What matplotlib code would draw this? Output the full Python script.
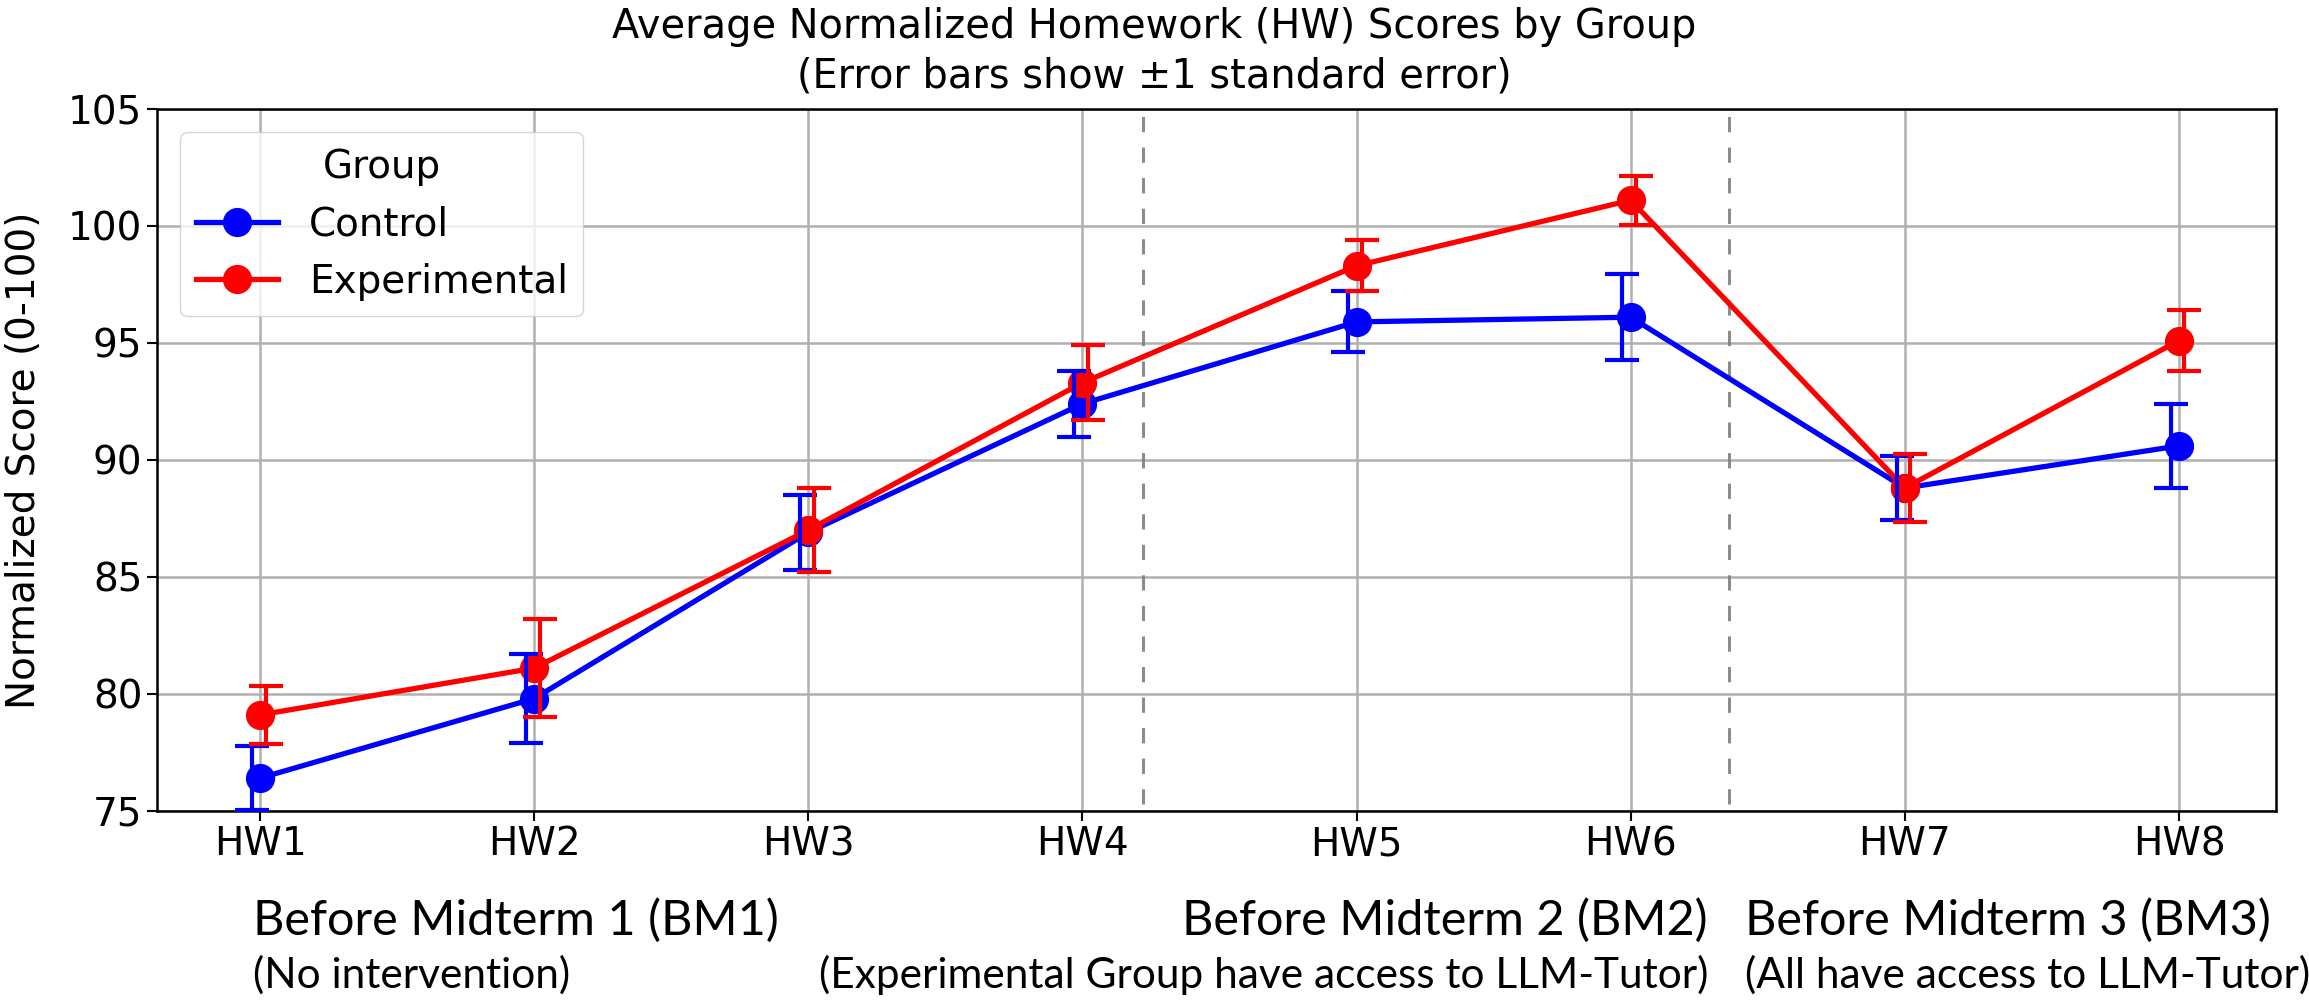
import numpy as np
import matplotlib.pyplot as plt

# Homework labels and group means / standard errors
homeworks = ['HW1', 'HW2', 'HW3', 'HW4', 'HW5', 'HW6', 'HW7', 'HW8']
control_mean = [76.4, 79.8, 86.9, 92.4, 95.9, 96.1, 88.8, 90.6]
control_se = [1.35, 1.9, 1.6, 1.4, 1.3, 1.85, 1.35, 1.8]
exp_mean = [79.1, 81.1, 87.0, 93.3, 98.3, 101.1, 88.8, 95.1]
exp_se = [1.25, 2.1, 1.8, 1.6, 1.1, 1.05, 1.45, 1.3]

# Period boundaries (dashed lines) and period captions
boundaries = [3.22, 5.36]
period_titles = ['Before Midterm 1 (BM1)', 'Before Midterm 2 (BM2)', 'Before Midterm 3 (BM3)']
period_notes = ['(No intervention)', '(Experimental Group have access to LLM-Tutor)',
                '(All have access to LLM-Tutor)']

x = np.arange(len(homeworks))

fig = plt.figure(figsize=(23.09, 10.01), dpi=100)
ax = fig.add_axes([0.068, 0.19, 0.9177, 0.7011])

fs = 28

ax.plot(x, control_mean, color='blue', marker='o', markersize=20, linewidth=3.8,
        label='Control', zorder=3)
ax.plot(x, exp_mean, color='red', marker='o', markersize=20, linewidth=3.8,
        label='Experimental', zorder=3)
ax.errorbar(x - 0.03, control_mean, yerr=control_se, fmt='none', ecolor='blue',
            elinewidth=3, capsize=12, capthick=3, zorder=3)
ax.errorbar(x + 0.02, exp_mean, yerr=exp_se, fmt='none', ecolor='red',
            elinewidth=3, capsize=12, capthick=3, zorder=3)

for b in boundaries:
    ax.axvline(b, ymin=0.01, ymax=0.99, color='gray', linestyle=(0, (5, 5)),
               linewidth=2.2, alpha=0.9, zorder=2)

ax.set_xlim(-0.376, 7.354)
ax.set_ylim(75, 105)
ax.set_yticks([75, 80, 85, 90, 95, 100, 105])
ax.set_xticks(x)
ax.set_xticklabels(homeworks)
ax.tick_params(labelsize=fs, width=1.5, length=7)
for s in ax.spines.values():
    s.set_linewidth(1.8)
ax.grid(True, color='#b0b0b0', linewidth=1.8)
ax.set_axisbelow(True)

ax.set_ylabel('Normalized Score (0-100)', fontsize=fs, labelpad=18)

leg = ax.legend(title='Group', fontsize=fs, title_fontsize=fs, loc='upper left',
                borderaxespad=0.6, handlelength=2.1)

fig.text(0.5, 0.993, 'Average Normalized Homework (HW) Scores by Group\n'
         '(Error bars show \u00b11 standard error)', ha='center', va='top',
         fontsize=28.7, linespacing=1.3)

# Period captions under the axis
tfont = 'Lato'
fig.text(253 / 2309, 1 - 920 / 1001, period_titles[0], ha='left', va='center',
         fontsize=35, family=tfont)
fig.text(1708 / 2309, 1 - 920 / 1001, period_titles[1], ha='right', va='center',
         fontsize=35, family=tfont)
fig.text(1745 / 2309, 1 - 920 / 1001, period_titles[2], ha='left', va='center',
         fontsize=35, family=tfont)
fig.text(253 / 2309, 1 - 975 / 1001, period_notes[0], ha='left', va='center',
         fontsize=30.5, family=tfont)
fig.text(1708 / 2309, 1 - 975 / 1001, period_notes[1], ha='right', va='center',
         fontsize=30.5, family=tfont)
fig.text(1745 / 2309, 1 - 975 / 1001, period_notes[2], ha='left', va='center',
         fontsize=30.5, family=tfont)

fig.savefig('out.png', dpi=100)
